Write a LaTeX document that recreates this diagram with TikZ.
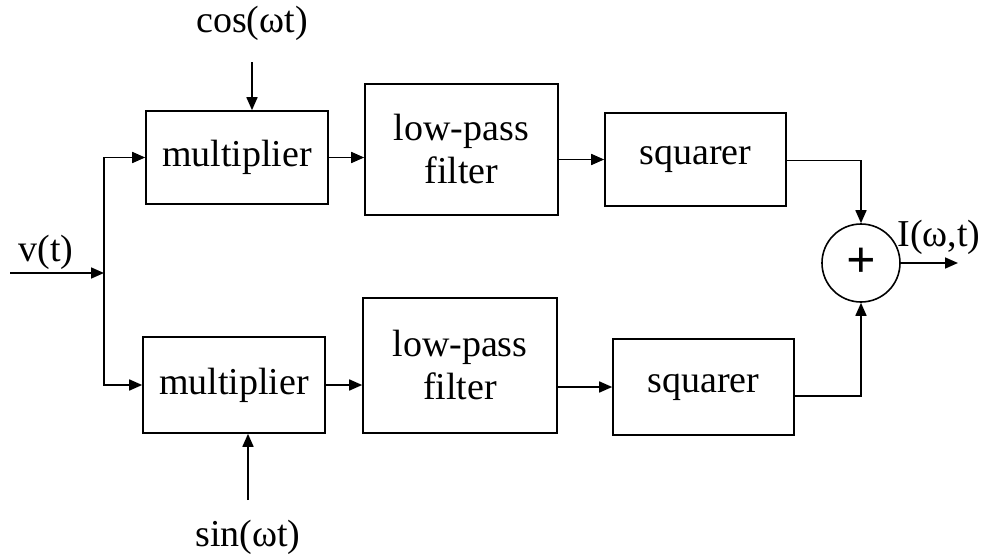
\documentclass[tikz,border=0pt]{standalone}
\usepackage{fontspec}
\setmainfont{Liberation Serif}
\usetikzlibrary{positioning,arrows.meta}

\begin{document}
\begin{tikzpicture}[x=0.5pt, y=-0.5pt, line width=0.8pt,
    >={Triangle[length=6.5pt,width=5.5pt]},
    block/.style={rectangle, draw, align=center, font=\fontsize{19}{21.5}\selectfont},
    lbl/.style={font=\fontsize{19}{21.5}\selectfont, inner sep=0pt}]
            \useasboundingbox (0,0) rectangle (987,557);

            % Nodes
            \node[block, minimum width=91pt, minimum height=46.5pt] (mul1) at (237,157.5) {multiplier};
            \node[block, minimum width=91pt, minimum height=48pt] (mul2) at (234,385) {multiplier};
            \node[block, minimum width=96.5pt, minimum height=65.5pt] (lpf1) at (461.5,149.5) {low-pass\\filter};
            \node[block, minimum width=97pt, minimum height=67.5pt] (lpf2) at (460,365.5) {low-pass\\filter};
            \node[block, minimum width=90.5pt, minimum height=46.5pt] (sq1) at (695.5,159.5) {squarer};
            \node[block, minimum width=90.5pt, minimum height=48pt] (sq2) at (703.5,387) {squarer};
            \node[circle, draw, minimum size=39pt, inner sep=0pt] (sum) at (861,263) {\fontsize{26}{28}\selectfont\textbf{+}};

            \node[lbl] (cos) at (252,23) {cos(ωt)};
            \node[lbl] (sin) at (248,537) {sin(ωt)};
            \node[lbl] (vin) at (46,252) {v(t)};
            \node[lbl] (iout) at (939,237) {I(ω,t)};

            \coordinate (in) at (10,273);
            \coordinate (split) at (104,273);
            \coordinate (cosend) at (252,62);
            \coordinate (sinend) at (248,500);
            \coordinate (out) at (958,263);

            % Connections
            \draw[->] (in) -- (split);
            \draw[->] (split) |- (mul1.west);
            \draw[->] (split) |- (mul2.west);
            \draw[->] (cosend) -- (cosend |- mul1.north);
            \draw[->] (sinend) -- (sinend |- mul2.south);
            \draw[->] (mul1.east) -- (mul1.east -| lpf1.west);
            \draw[->] (mul2.east) -- (mul2.east -| lpf2.west);
            \draw[->] (lpf1.east |- sq1) -- (sq1.west);
            \draw[->] (lpf2.east |- sq2) -- (sq2.west);
            \draw[->] ([yshift=-0.5pt]sq1.east) -| (sum.north);
            \draw[->] ([yshift=-4.5pt]sq2.east) -| (sum.south);
            \draw[->] (sum.east) -- (out);
\end{tikzpicture}
\end{document}
